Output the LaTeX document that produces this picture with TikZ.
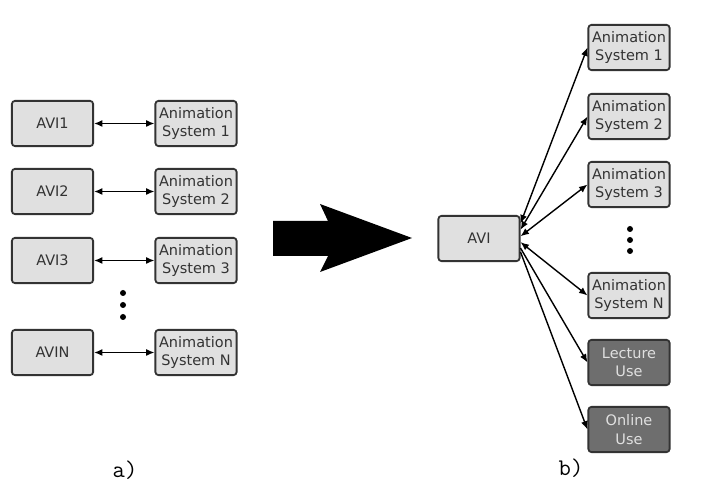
\documentclass[tikz,border=0pt]{standalone}
\usepackage{fontspec}
\setmainfont{DejaVu Sans}
\usetikzlibrary{arrows.meta}

\begin{document}
\begin{tikzpicture}[
        x=.025cm, y=-.025cm,
        box/.style={draw=black!80, line width=1.3pt, rounded corners=2.2pt,
            fill=black!12, minimum width=2.03cm, minimum height=1.13cm,
            inner sep=1pt, align=center, font=\fontsize{10.3}{13}\selectfont,
            text=black!80},
        darkbox/.style={box, fill=black!57, text=black!12},
        link/.style={line width=1pt, {Latex[length=6pt,width=5pt]}-{Latex[length=6pt,width=5pt]}},
        feed/.style={line width=1pt, -{Latex[length=6pt,width=5pt]}},
        lbl/.style={font=\ttfamily\fontsize{17}{19}\selectfont},
    ]
    \useasboundingbox (0, 0) rectangle (706, 492);

    %% a) one visualisation per animation system
    \foreach \y/\k in {123.5/1, 191.5/2, 260.5/3, 352.5/N}{
        \node[box] (avi\k) at (52.5, \y) {AVI\k};
        \node[box] (sys\k) at (196, \y) {Animation\\System \k};
        \draw[link] (avi\k) -- (sys\k);
    }
    \foreach \y in {293, 305, 317}
        \fill (123, \y) circle (3);
    \node[lbl] (la) at (125, 470) {a)};

    %% big arrow between the two halves
    \fill (273, 221) -- (328, 221) -- (320, 204) -- (412, 238)
        -- (320, 272) -- (328, 256) -- (273, 256) -- cycle;

    %% b) one visualisation shared by all
    \node[box] (avi) at (479, 238.5) {AVI};
    \foreach \y/\k/\a in {47.5/1/20, 116.5/2/12, 184.5/3/3, 295.5/N/-5}{
        \node[box] (rsys\k) at (629, \y) {Animation\\System \k};
        \draw[link] (avi.\a) -- (rsys\k.west);
    }
    \foreach \y in {229, 240, 251}
        \fill (630, \y) circle (3);
    \node[darkbox] (lecture) at (629, 362.5) {Lecture\\Use};
    \node[darkbox] (online) at (629, 429.5) {Online\\Use};
    \draw[feed] (avi.-13) -- (lecture.west);
    \draw[feed] (avi.-18) -- (online.west);
    \node[lbl] (lb) at (571, 468) {b)};
\end{tikzpicture}
\end{document}
